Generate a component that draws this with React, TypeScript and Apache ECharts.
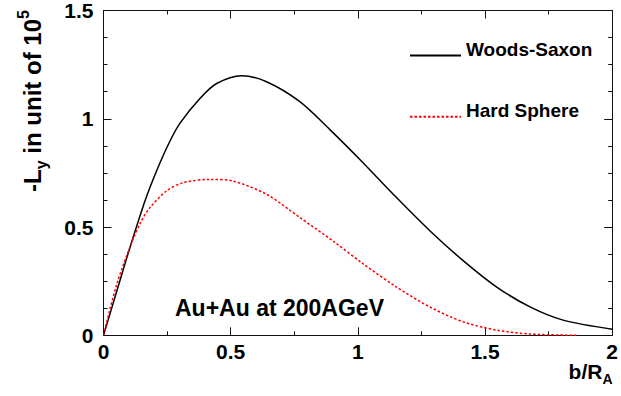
import React, { useEffect, useRef } from 'react';
import * as echarts from 'echarts';

// Woods-Saxon (black solid)
const wsB = [0, 0.05, 0.1, 0.163, 0.209, 0.261, 0.301, 0.379, 0.445, 0.543, 0.641, 0.772, 0.89, 1.008, 1.152, 1.283, 1.414, 1.546, 1.677, 1.807, 2.0];
const wsL = [0, 0.195, 0.39, 0.62, 0.76, 0.896, 0.98, 1.094, 1.163, 1.199, 1.171, 1.079, 0.95, 0.812, 0.636, 0.483, 0.345, 0.223, 0.131, 0.07, 0.028];

// Hard Sphere (red dotted)
const hsB = [0, 0.052, 0.111, 0.15, 0.183, 0.248, 0.314, 0.419, 0.51, 0.641, 0.772, 0.903, 1.021, 1.152, 1.283, 1.414, 1.546, 1.677, 1.866];
const hsL = [0, 0.235, 0.429, 0.53, 0.59, 0.667, 0.705, 0.72, 0.712, 0.651, 0.544, 0.435, 0.33, 0.223, 0.131, 0.062, 0.024, 0.006, 0.0];

const seriesNames = ['Woods-Saxon', 'Hard Sphere'];
const annotation = 'Au+Au at 200AGeV';

const FONT = "'Liberation Sans', Arial, Helvetica, sans-serif";

export default function App() {
  const ref = useRef<HTMLDivElement>(null);
  useEffect(() => {
    if (!ref.current) return;
    const chart = echarts.init(ref.current, undefined, { renderer: 'svg' });
    const axisLineStyle = { color: '#111', width: 1 };
    const baseX = {
      type: 'value' as const,
      min: 0,
      max: 2,
      interval: 0.5,
      axisLine: { show: true, onZero: false, lineStyle: axisLineStyle },
      axisTick: { show: true, inside: true, length: 8, lineStyle: axisLineStyle },
      minorTick: { show: true, splitNumber: 2, length: 4, lineStyle: axisLineStyle },
      splitLine: { show: false },
      minorSplitLine: { show: false },
    };
    const baseY = {
      type: 'value' as const,
      min: 0,
      max: 1.5,
      interval: 0.5,
      axisLine: { show: true, onZero: false, lineStyle: axisLineStyle },
      axisTick: { show: true, inside: true, length: 8, lineStyle: axisLineStyle },
      minorTick: { show: true, splitNumber: 4, length: 4, lineStyle: axisLineStyle },
      splitLine: { show: false },
      minorSplitLine: { show: false },
    };
    const labelStyle = { fontSize: 21, fontWeight: 'bold' as const, color: '#000', fontFamily: FONT };
    chart.setOption({
      animation: false,
      backgroundColor: '#fff',
      grid: { left: 103.5, right: 8.7, top: 8.3, bottom: 60.7, containLabel: false },
      legend: {
        data: seriesNames,
        orient: 'vertical',
        left: 409,
        top: 40,
        padding: 0,
        itemWidth: 51,
        itemHeight: 32,
        itemGap: 33,
        itemStyle: { opacity: 0 },
        formatter: '{t|{name}}',
        textStyle: {
          fontSize: 19,
          fontWeight: 'bold',
          color: '#000',
          fontFamily: FONT,
          rich: {
            t: { fontSize: 19, fontWeight: 'bold', color: '#000', fontFamily: FONT, padding: [0, 0, 12, 0] },
          },
        },
      },
      xAxis: [
        { ...baseX, position: 'bottom', axisLabel: { ...labelStyle, margin: 6 } },
        { ...baseX, position: 'top', axisLabel: { show: false } },
      ],
      yAxis: [
        { ...baseY, position: 'left', axisLabel: { ...labelStyle, margin: 10 } },
        { ...baseY, position: 'right', axisLabel: { show: false } },
      ],
      series: [
        {
          name: seriesNames[0],
          type: 'line',
          xAxisIndex: 0,
          yAxisIndex: 0,
          data: wsB.map((b, i) => [b, wsL[i]]),
          symbol: 'none',
          smooth: 0.3,
          lineStyle: { color: '#000', width: 1.5, type: 'solid' },
          itemStyle: { color: '#000' },
        },
        {
          name: seriesNames[1],
          type: 'line',
          xAxisIndex: 0,
          yAxisIndex: 0,
          data: hsB.map((b, i) => [b, hsL[i]]),
          symbol: 'none',
          smooth: 0.3,
          lineStyle: { color: '#ff0000', width: 1.5, type: [2.5, 2] },
          itemStyle: { color: '#ff0000' },
        },
      ],
      graphic: [
        {
          type: 'text',
          x: 32,
          y: 101,
          rotation: Math.PI / 2,
          style: {
            text: '{b|-L}{s|y}{b| in unit of 10}{p|5}',
            align: 'center',
            verticalAlign: 'middle',
            fill: '#000',
            rich: {
              b: { fontSize: 24, fontWeight: 'bold', fontFamily: FONT, lineHeight: 34, fill: '#000' },
              s: { fontSize: 16, fontWeight: 'bold', fontFamily: FONT, lineHeight: 17, verticalAlign: 'bottom', fill: '#000' },
              p: { fontSize: 16, fontWeight: 'bold', fontFamily: FONT, lineHeight: 17, verticalAlign: 'top', fill: '#000' },
            },
          },
        },
        {
          type: 'text',
          x: 612.5,
          y: 371,
          style: {
            text: '{b|b/R}{s|A}',
            align: 'right',
            verticalAlign: 'middle',
            fill: '#000',
            rich: {
              b: { fontSize: 21, fontWeight: 'bold', fontFamily: FONT, lineHeight: 30, fill: '#000' },
              s: { fontSize: 14, fontWeight: 'bold', fontFamily: FONT, lineHeight: 16, verticalAlign: 'bottom', fill: '#000' },
            },
          },
        },
        {
          type: 'text',
          x: 175,
          y: 308,
          style: {
            text: annotation,
            font: `bold 23px ${FONT}`,
            fill: '#000',
            align: 'left',
            verticalAlign: 'middle',
          },
        },
      ],
    });
    return () => chart.dispose();
  }, []);
  return <div ref={ref} style={{ position: 'fixed', left: 0, top: 0, width: 621, height: 396 }} />;
}
